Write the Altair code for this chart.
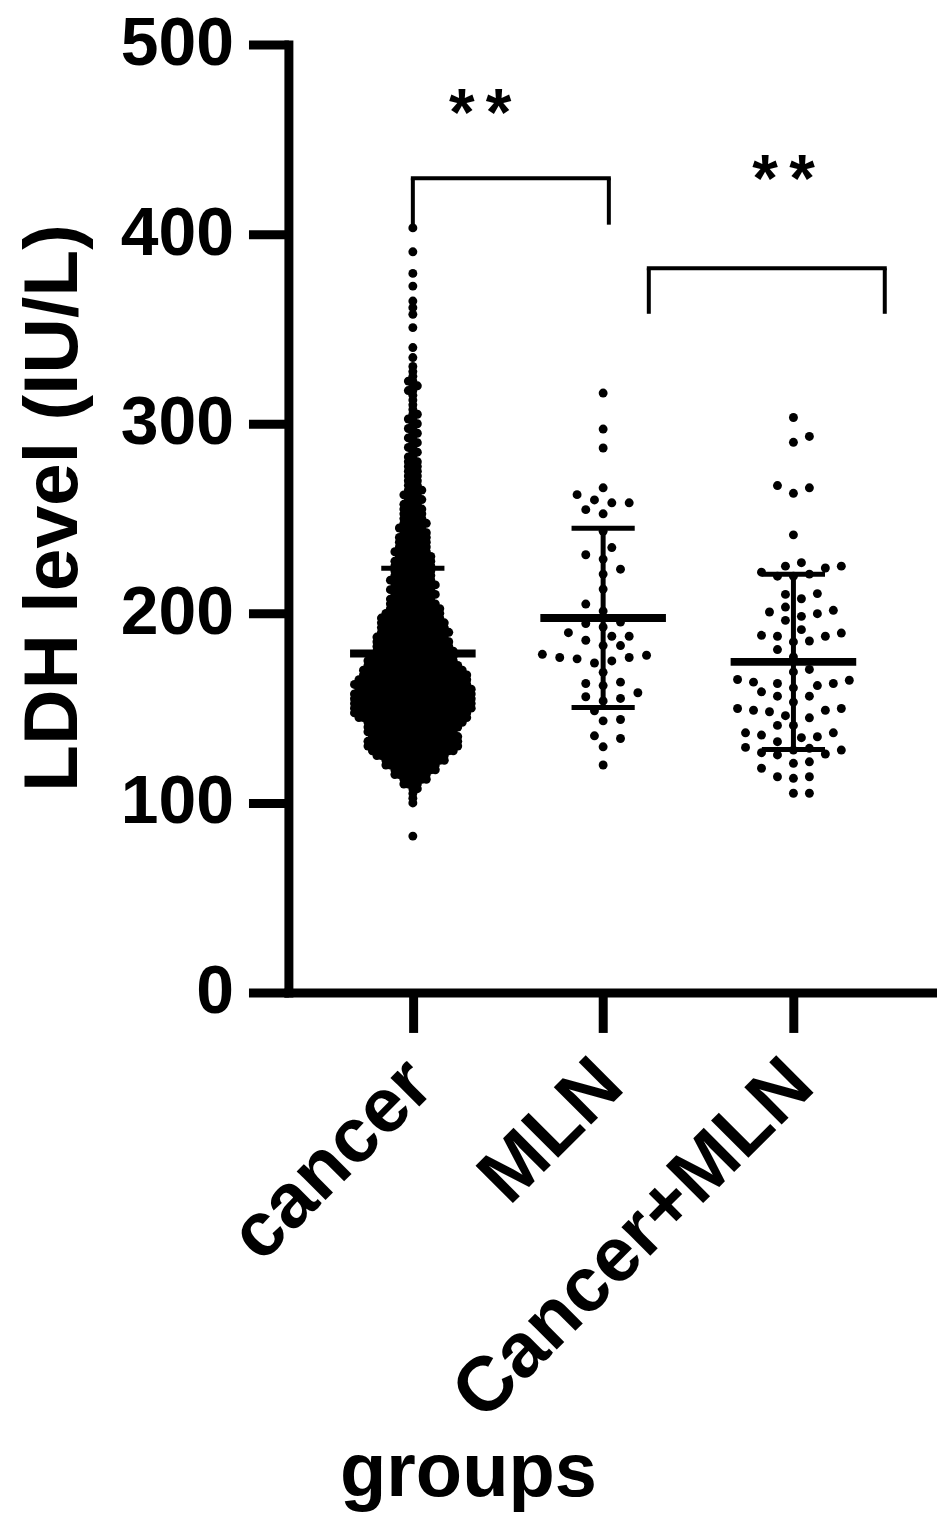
import json
import numpy as np
import pandas as pd
import altair as alt

# ---------------- data ----------------
categories = ["cancer", "MLN", "Cancer+MLN"]
group_mean = [178.8, 197.6, 174.4]
group_sd = [45.0, 47.3, 46.2]

mln_values = [316.2, 297.2, 287.2, 266.2, 258.3, 259.8, 262.6, 258.3, 254.7, 252.5,
              243.3, 234.7, 230.9, 228.6, 223.3, 220.7, 212.8, 204.9, 201.2, 194.6,
              192.8, 195.4, 189.8, 185.8, 187.9, 187.9, 183.0, 183.0, 176.0, 174.9,
              173.8, 176.7, 177.9, 178.4, 176.7, 168.9, 163.7, 161.9, 163.0, 156.0,
              155.1, 158.1, 153.8, 148.6, 143.3, 144.0, 135.4, 134.0, 129.6, 120.0]

cmln_values = [303.3, 290.2, 293.3, 267.4, 266.2, 263.3, 241.4, 224.9, 226.7, 219.6,
               221.7, 219.6, 223.9, 224.9, 220.7, 210.4, 210.0, 207.7, 203.3, 201.6,
               199.8, 200.7, 196.3, 198.4, 187.9, 187.9, 184.9, 185.4, 189.6, 188.4,
               191.4, 180.9, 177.0, 170.4, 169.1, 165.1, 163.0, 161.9, 163.7, 160.7,
               164.7, 163.0, 156.3, 158.6, 156.3, 153.2, 148.9, 146.0, 148.9, 149.8,
               148.1, 149.8, 144.9, 140.9, 140.9, 134.9, 137.0, 134.4, 137.0, 132.3,
               135.8, 127.9, 125.8, 125.3, 126.5, 128.8, 129.3, 127.9, 121.7, 118.3,
               120.9, 113.8, 113.8, 113.0, 105.1, 105.1]

# cancer group: dense swarm, read as value rows and number of patients per row
cancer_row_values = [100, 102.5, 105, 107.5, 110, 112.5, 115, 117.5, 120, 122.5,
                     125, 127.5, 130, 132.5, 135, 137.5, 140, 142.5, 145, 147.5,
                     150, 152.5, 155, 157.5, 160, 162.5, 165, 167.5, 170, 172.5,
                     175, 177.5, 180, 182.5, 185, 187.5, 190, 192.5, 195, 197.5,
                     200, 202.5, 205, 207.5, 210, 212.5, 215, 217.5, 220, 222.5,
                     225, 227.5, 230, 232.5, 235, 237.5, 240, 242.5, 245, 247.5,
                     250, 252.5, 255, 257.5, 260, 262.5, 265, 267.5, 270, 272.5,
                     275, 277.5, 280, 282.5, 285, 287.5, 290, 292.5, 295, 297.5,
                     300, 302.5, 305, 307.5, 310, 312.5, 315, 317.5, 320, 322.5,
                     325, 327.5]
cancer_row_counts = [1, 1, 1, 2, 4, 6, 8, 10, 12, 14,
                     16, 19, 21, 21, 20, 20, 21, 22, 25, 26,
                     27, 27, 27, 27, 26, 26, 25, 24, 23, 21,
                     20, 19, 18, 17, 17, 16, 16, 15, 15, 14,
                     13, 12, 11, 10, 10, 10, 10, 10, 9, 9,
                     9, 9, 8, 8, 7, 7, 7, 6, 6, 6,
                     5, 5, 5, 4, 4, 4, 4, 3, 3, 3,
                     3, 3, 3, 2, 2, 2, 2, 2, 2, 2,
                     2, 2, 2, 1, 1, 1, 1, 2, 2, 2,
                     1, 1]
cancer_single_values = [82.5, 330.2, 334.9, 340.2, 350.7, 357.7, 361.2, 364.7,
                        372.6, 379.3, 390.7, 403.3]

# significance brackets (group positions, LDH levels) and labels
bracket_from = [0.0, 1.24]
bracket_to = [1.03, 2.48]
bracket_top = [429.5, 382.0]
bracket_leg = [405.0, 358.0]
star_pos = [0.354, 1.948]
star_level = [463.0, 428.2]
star_label = ["**", "**"]

# ---------------- layout helpers ----------------
PX_PER_UNIT_Y = 1.9      # pixels per IU/L
PX_PER_GROUP = 190.7     # pixels between group centres
X_DOMAIN = [-0.654, -0.654 + 650 / PX_PER_GROUP]
STAR_GAP = 37.0 / PX_PER_GROUP   # distance between the two asterisks


def beeswarm(values, step, dist):
    """Simple deterministic beeswarm: horizontal offsets (px) for each value."""
    ys_ = np.asarray(values, dtype=float) * PX_PER_UNIT_Y
    order = np.argsort(ys_, kind="stable")
    placed_x, placed_y = [], []
    out = np.zeros(len(ys_))
    toggle = 1
    for i in order:
        y = ys_[i]
        near = [(px, py) for px, py in zip(placed_x, placed_y) if abs(py - y) < dist]
        k = 0
        found = None
        while found is None:
            cands = [0.0] if k == 0 else [toggle * k * step, -toggle * k * step]
            for c in cands:
                if all((c - px) ** 2 + (y - py) ** 2 >= dist * dist - 1e-9 for px, py in near):
                    found = c
                    break
            k += 1
        if found != 0:
            toggle = -toggle
        out[i] = found
        placed_x.append(found)
        placed_y.append(y)
    return out


cancer_values = list(cancer_single_values)
for v, c in zip(cancer_row_values, cancer_row_counts):
    cancer_values += [v] * c

groups = [
    (cancer_values, 4.5, 4.4),
    (mln_values, 8.7, 12.5),
    (cmln_values, 8.0, 12.5),
]
rows = []
for gi, (vals, step, dist) in enumerate(groups):
    offs = beeswarm(vals, step, dist)
    for v, o in zip(vals, offs):
        rows.append({"x": gi + o / PX_PER_GROUP, "ldh": v})
points = pd.DataFrame(rows)

gidx = list(range(len(categories)))
summary = pd.DataFrame({
    "g": gidx,
    "mean": group_mean,
    "lo": [m - s for m, s in zip(group_mean, group_sd)],
    "hi": [m + s for m, s in zip(group_mean, group_sd)],
})
summary["mx1"] = summary["g"] - 0.33
summary["mx2"] = summary["g"] + 0.33
summary["cx1"] = summary["g"] - 0.166
summary["cx2"] = summary["g"] + 0.166

br = pd.DataFrame({"x1": bracket_from, "x2": bracket_to, "top": bracket_top, "leg": bracket_leg})
legs = pd.DataFrame({
    "x": bracket_from + bracket_to,
    "top": bracket_top + bracket_top,
    "leg": bracket_leg + bracket_leg,
})
star_rows = []
for p, lv, lab in zip(star_pos, star_level, star_label):
    n = len(lab)
    for k, ch in enumerate(lab):
        star_rows.append({"x": p + (k - (n - 1) / 2) * STAR_GAP, "y": lv, "t": ch})
stars = pd.DataFrame(star_rows)

FONT = "Liberation Sans"
xs = alt.Scale(domain=X_DOMAIN, nice=False, zero=False)
ys = alt.Scale(domain=[0, 500], nice=False, zero=True)

label_expr = json.dumps(categories) + "[datum.value]"

x_axis = alt.Axis(
    values=gidx, labelExpr=label_expr, title="groups", grid=False,
    domainWidth=9, domainColor="black", domainCap="square",
    tickWidth=9, tickColor="black", tickSize=40,
    labelAngle=-45, labelAlign="right", labelBaseline="middle",
    labelFont=FONT, labelFontSize=77, labelFontWeight="bold", labelColor="black",
    labelPadding=40, labelOffset=7, labelOverlap=False, labelFlush=False, labelLimit=2000,
    titleFont=FONT, titleFontSize=76, titleFontWeight="bold", titleColor="black",
    titleX=180, titleY=504, titleAlign="center", titleBaseline="alphabetic",
)
y_axis = alt.Axis(
    values=[0, 100, 200, 300, 400, 500], format="d", title="LDH level (IU/L)", grid=False,
    domainWidth=9, domainColor="black", domainCap="square",
    tickWidth=9, tickColor="black", tickSize=40,
    labelFont=FONT, labelFontSize=68, labelFontWeight="bold", labelColor="black",
    labelPadding=15, labelOverlap=False, labelFlush=False, labelLimit=2000,
    titleFont=FONT, titleFontSize=77, titleFontWeight="bold", titleColor="black",
    titlePadding=28, titleY=464,
)


def X(field):
    return alt.X(field, scale=xs, axis=x_axis)


def Y(field):
    return alt.Y(field, scale=ys, axis=y_axis)


pts = alt.Chart(points).mark_circle(size=80, color="black", opacity=1).encode(
    x=X("x:Q"), y=Y("ldh:Q"),
)
mean_bar = alt.Chart(summary).mark_rule(color="black", strokeWidth=8).encode(
    x=X("mx1:Q"), x2="mx2:Q", y=Y("mean:Q"),
)
sd_line = alt.Chart(summary).mark_rule(color="black", strokeWidth=5).encode(
    x=X("g:Q"), y=Y("lo:Q"), y2="hi:Q",
)
cap_hi = alt.Chart(summary).mark_rule(color="black", strokeWidth=5).encode(
    x=X("cx1:Q"), x2="cx2:Q", y=Y("hi:Q"),
)
cap_lo = alt.Chart(summary).mark_rule(color="black", strokeWidth=5).encode(
    x=X("cx1:Q"), x2="cx2:Q", y=Y("lo:Q"),
)
br_top = alt.Chart(br).mark_rule(color="black", strokeWidth=4, strokeCap="square").encode(
    x=X("x1:Q"), x2="x2:Q", y=Y("top:Q"),
)
br_legs = alt.Chart(legs).mark_rule(color="black", strokeWidth=4).encode(
    x=X("x:Q"), y=Y("top:Q"), y2="leg:Q",
)
star_txt = alt.Chart(stars).mark_text(
    font=FONT, fontSize=66, fontWeight="bold", color="black", align="center", baseline="middle"
).encode(
    x=X("x:Q"), y=Y("y:Q"), text="t:N",
)

chart = alt.layer(
    pts, mean_bar, sd_line, cap_hi, cap_lo, br_top, br_legs, star_txt
).properties(
    width=650, height=950,
    padding={"left": 281, "top": 35, "right": 0, "bottom": 541},
    autosize=alt.AutoSizeParams(type="none"),
    background="white",
).configure_view(stroke=None)

chart.save("out.html", embed_options={"renderer": "svg", "actions": False})
